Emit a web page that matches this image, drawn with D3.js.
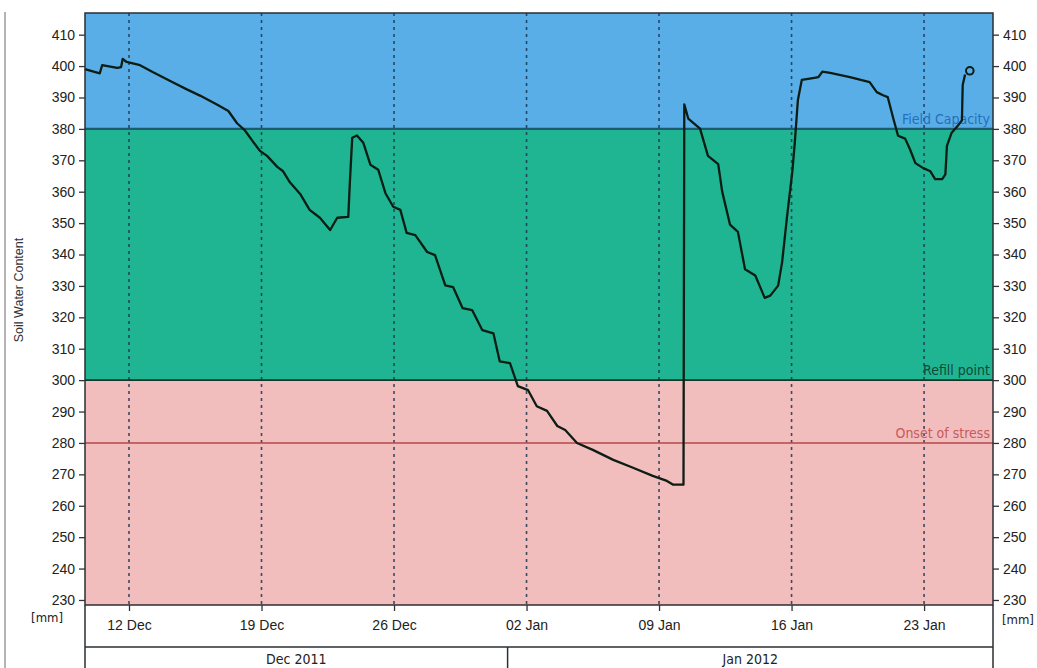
<!DOCTYPE html>
<html>
<head>
<meta charset="utf-8">
<script src="https://cdnjs.cloudflare.com/ajax/libs/d3/7.8.5/d3.min.js"></script>
<style>
body { margin: 0; background: #fff; }
text { font-family: "Liberation Sans Narrow", "Arial Narrow", "DejaVu Sans Condensed", sans-serif; }
</style>
</head>
<body>
<svg id="chart" width="1037" height="668"></svg>
<script>
// soil water content readings [mm]
var times = [
    "2011-12-09T16:00", "2011-12-10T11:00", "2011-12-10T14:00", "2011-12-11T09:00", "2011-12-11T14:00",
    "2011-12-11T16:00", "2011-12-11T21:00", "2011-12-12T14:00", "2011-12-13T06:00", "2011-12-14T08:00",
    "2011-12-15T02:00", "2011-12-15T18:00", "2011-12-16T16:00", "2011-12-17T06:00", "2011-12-17T17:00",
    "2011-12-18T03:00", "2011-12-18T13:00", "2011-12-18T22:00", "2011-12-19T07:00", "2011-12-19T20:00",
    "2011-12-20T03:00", "2011-12-20T12:00", "2011-12-21T01:00", "2011-12-21T13:00", "2011-12-22T02:00",
    "2011-12-22T15:00", "2011-12-23T00:00", "2011-12-23T14:00", "2011-12-23T16:00", "2011-12-23T19:00",
    "2011-12-24T01:00", "2011-12-24T09:00", "2011-12-24T18:00", "2011-12-25T04:00", "2011-12-25T13:00",
    "2011-12-25T23:00", "2011-12-26T08:00", "2011-12-26T16:00", "2011-12-27T03:00", "2011-12-27T18:00",
    "2011-12-28T04:00", "2011-12-28T17:00", "2011-12-29T03:00", "2011-12-29T15:00", "2011-12-30T03:00",
    "2011-12-30T16:00", "2011-12-31T06:00", "2011-12-31T14:00", "2012-01-01T03:00", "2012-01-01T13:00",
    "2012-01-02T02:00", "2012-01-02T13:00", "2012-01-03T02:00", "2012-01-03T15:00", "2012-01-04T01:00",
    "2012-01-04T16:00", "2012-01-05T12:00", "2012-01-06T14:00", "2012-01-07T15:00", "2012-01-08T16:00",
    "2012-01-09T10:00", "2012-01-09T18:00", "2012-01-10T07:00", "2012-01-10T08:00", "2012-01-10T13:00",
    "2012-01-11T04:00", "2012-01-11T14:00", "2012-01-12T03:00", "2012-01-12T08:00", "2012-01-12T18:00",
    "2012-01-13T04:00", "2012-01-13T13:00", "2012-01-14T02:00", "2012-01-14T14:00", "2012-01-14T21:00",
    "2012-01-15T07:00", "2012-01-15T12:00", "2012-01-15T18:00", "2012-01-16T01:00", "2012-01-16T04:00",
    "2012-01-16T08:00", "2012-01-16T13:00", "2012-01-17T03:00", "2012-01-17T10:00", "2012-01-17T15:00",
    "2012-01-18T01:00", "2012-01-19T02:00", "2012-01-20T03:00", "2012-01-20T12:00", "2012-01-20T20:00",
    "2012-01-21T02:00", "2012-01-21T09:00", "2012-01-21T15:00", "2012-01-22T00:00", "2012-01-22T06:00",
    "2012-01-22T13:00", "2012-01-22T23:00", "2012-01-23T08:00", "2012-01-23T14:00", "2012-01-23T23:00",
    "2012-01-24T03:00", "2012-01-24T05:00", "2012-01-24T11:00", "2012-01-24T19:00", "2012-01-25T00:00",
    "2012-01-25T01:00", "2012-01-25T04:00", "2012-01-25T10:00"
];
var swc = [
    399.0, 397.7, 400.3, 399.4, 399.7,
    402.3, 401.3, 400.3, 398.1, 394.8,
    392.5, 390.6, 387.7, 385.7, 381.8,
    379.5, 376.0, 373.0, 371.4, 367.9,
    366.6, 363.0, 359.3, 354.2, 351.7,
    347.8, 351.7, 352.0, 362.8, 377.2,
    377.9, 375.6, 368.6, 367.0, 359.6,
    355.2, 354.2, 346.9, 346.2, 340.8,
    339.8, 330.2, 329.6, 322.9, 322.3,
    315.9, 314.9, 306.0, 305.4, 298.1,
    296.8, 291.7, 290.2, 285.4, 284.1,
    280.0, 277.8, 274.6, 272.1, 269.5,
    267.9, 266.7, 266.7, 387.8, 383.3,
    380.1, 371.4, 368.8, 360.1, 349.5,
    347.2, 335.3, 333.3, 326.2, 326.9,
    330.1, 337.5, 351.4, 366.5, 375.3,
    389.1, 395.6, 396.2, 396.5, 398.2,
    397.8, 396.5, 394.9, 391.7, 390.7,
    390.1, 383.3, 377.8, 376.9, 373.6,
    369.1, 367.5, 366.5, 364.0, 364.0,
    365.5, 374.6, 378.8, 381.1, 382.7,
    394.0, 397.3, 398.5
];

var yTickValues = [230, 240, 250, 260, 270, 280, 290, 300, 310, 320, 330, 340, 350, 360, 370, 380, 390, 400, 410];
var weekTicks = ["2011-12-12", "2011-12-19", "2011-12-26", "2012-01-02", "2012-01-09", "2012-01-16", "2012-01-23"];
var monthNames = ["Dec 2011", "Jan 2012"];
var monthBreaks = ["2012-01-01"];

// reference levels
var levelValues = [380, 300, 280];
var levelNames = ["Field Capacity", "Refill point", "Onset of stress"];
var levelColors = ["#1d5a72", "#14352a", "#b54a4c"];
var levelTextColors = ["#2470b8", "#0e4a38", "#c85a5c"];

// colour bands (upper, lower)
var bandTops = [417, 380, 300];
var bandBottoms = [380, 300, 228.4];
var bandColors = ["#5aaee8", "#20b592", "#f2bdbd"];

function drawChart() {
    var parseTime = d3.timeParse("%Y-%m-%dT%H:%M"),
        parseDay = d3.timeParse("%Y-%m-%d");

    var data = times.map(function (t, i) { return {t: parseTime(t), v: swc[i]}; });

    var svg = d3.select("#chart"),
        pLeft = 85, pRight = 993, pTop = 13, pBottom = 605;

    var x = d3.scaleTime()
        .domain([parseTime("2011-12-09T16:13"), parseTime("2012-01-26T15:24")])
        .range([pLeft, pRight]);

    var y = d3.scaleLinear()
        .domain([228.4, 416.9])
        .range([pBottom, pTop]);

    svg.append("rect").attr("width", 1037).attr("height", 668).attr("fill", "#fff");

    // frame line at far left
    svg.append("line")
        .attr("x1", 5).attr("x2", 5).attr("y1", 12).attr("y2", 668)
        .attr("stroke", "#9a9a9a").attr("stroke-width", 1.5);

    // bands
    svg.append("g").selectAll("rect").data(bandColors).enter().append("rect")
        .attr("x", pLeft)
        .attr("width", pRight - pLeft)
        .attr("y", function (d, i) { return y(Math.min(bandTops[i], y.domain()[1])); })
        .attr("height", function (d, i) { return y(bandBottoms[i]) - y(Math.min(bandTops[i], y.domain()[1])); })
        .attr("fill", function (d) { return d; });

    // weekly dotted lines
    svg.append("g").selectAll("line").data(weekTicks).enter().append("line")
        .attr("x1", function (d) { return x(parseDay(d)); })
        .attr("x2", function (d) { return x(parseDay(d)); })
        .attr("y1", pTop).attr("y2", pBottom)
        .attr("stroke", "#1c3550")
        .attr("stroke-opacity", 0.85)
        .attr("stroke-width", 1.6)
        .attr("stroke-dasharray", "3,4");

    // level lines and names
    var levels = svg.append("g");
    levels.selectAll("line").data(levelValues).enter().append("line")
        .attr("x1", pLeft).attr("x2", pRight)
        .attr("y1", function (d) { return y(d); })
        .attr("y2", function (d) { return y(d); })
        .attr("stroke", function (d, i) { return levelColors[i]; })
        .attr("stroke-width", function (d, i) { return i == 0 ? 2.2 : 1.6; });
    levels.selectAll("text").data(levelValues).enter().append("text")
        .attr("x", pRight - 3)
        .attr("y", function (d) { return y(d) - 5; })
        .attr("text-anchor", "end")
        .attr("font-size", "14px")
        .attr("fill", function (d, i) { return levelTextColors[i]; })
        .text(function (d, i) { return levelNames[i]; });

    // data line
    var line = d3.line()
        .x(function (d) { return x(d.t); })
        .y(function (d) { return y(d.v); });

    svg.append("path")
        .datum(data.slice(0, data.length - 1))
        .attr("d", line)
        .attr("fill", "none")
        .attr("stroke", "#0c1d14")
        .attr("stroke-width", 2.3)
        .attr("stroke-linejoin", "round");

    var last = data[data.length - 1];
    svg.append("circle")
        .attr("cx", x(last.t)).attr("cy", y(last.v)).attr("r", 3.8)
        .attr("fill", "none").attr("stroke", "#0c1d14").attr("stroke-width", 2);

    // plot border
    svg.append("rect")
        .attr("x", pLeft).attr("y", pTop)
        .attr("width", pRight - pLeft).attr("height", pBottom - pTop)
        .attr("fill", "none").attr("stroke", "#2a2f33").attr("stroke-width", 1.5);

    // axes
    var yLeft = svg.append("g")
        .attr("transform", "translate(" + pLeft + ",0)")
        .call(d3.axisLeft(y).tickValues(yTickValues).tickSize(6).tickPadding(4));
    var yRight = svg.append("g")
        .attr("transform", "translate(" + pRight + ",0)")
        .call(d3.axisRight(y).tickValues(yTickValues).tickSize(6).tickPadding(4));
    [yLeft, yRight].forEach(function (g) {
        g.select(".domain").remove();
        g.selectAll("line").attr("stroke", "#333").attr("stroke-width", 1.3);
        g.selectAll("text").attr("font-size", "14px").attr("fill", "#222")
            .style("font-family", "'Liberation Sans Narrow', 'Arial Narrow', sans-serif");
    });

    var xAxis = svg.append("g")
        .attr("transform", "translate(0," + pBottom + ")")
        .call(d3.axisBottom(x)
            .tickValues(weekTicks.map(parseDay))
            .tickFormat(d3.timeFormat("%d %b"))
            .tickSize(6).tickPadding(9));
    xAxis.select(".domain").remove();
    xAxis.selectAll("line").attr("stroke", "#333").attr("stroke-width", 1.3);
    xAxis.selectAll("text").attr("font-size", "14px").attr("fill", "#222")
        .style("font-family", "'Liberation Sans Narrow', 'Arial Narrow', sans-serif");

    // month band below the axis
    var monthEdges = [x.domain()[0]].concat(monthBreaks.map(parseDay)).concat([x.domain()[1]]);
    var months = svg.append("g");
    months.append("line")
        .attr("x1", pLeft).attr("x2", pRight).attr("y1", 647).attr("y2", 647)
        .attr("stroke", "#2a2f33").attr("stroke-width", 1.5);
    months.selectAll("line.edge").data(monthEdges).enter().append("line")
        .attr("class", "edge")
        .attr("x1", function (d) { return x(d); })
        .attr("x2", function (d) { return x(d); })
        .attr("y1", function (d, i) { return i == 0 || i == monthEdges.length - 1 ? pBottom : 647; })
        .attr("y2", 668)
        .attr("stroke", "#2a2f33").attr("stroke-width", 1.5);
    months.selectAll("text").data(monthNames).enter().append("text")
        .attr("x", function (d, i) { return (x(monthEdges[i]) + x(monthEdges[i + 1])) / 2; })
        .attr("y", 664)
        .attr("text-anchor", "middle")
        .attr("font-size", "14px")
        .attr("fill", "#222")
        .text(function (d) { return d; });

    // units
    svg.append("text").attr("x", 63).attr("y", 622).attr("text-anchor", "end")
        .attr("font-size", "13px").attr("fill", "#222").text("[mm]");
    svg.append("text").attr("x", 1002).attr("y", 624)
        .attr("font-size", "13px").attr("fill", "#222").text("[mm]");

    // y title
    svg.append("text")
        .attr("transform", "translate(23,290) rotate(-90)")
        .attr("text-anchor", "middle")
        .attr("font-size", "12.5px")
        .attr("fill", "#333")
        .style("font-family", "'Liberation Sans', Arial, sans-serif")
        .text("Soil Water Content");
}

drawChart();
</script>
</body>
</html>
